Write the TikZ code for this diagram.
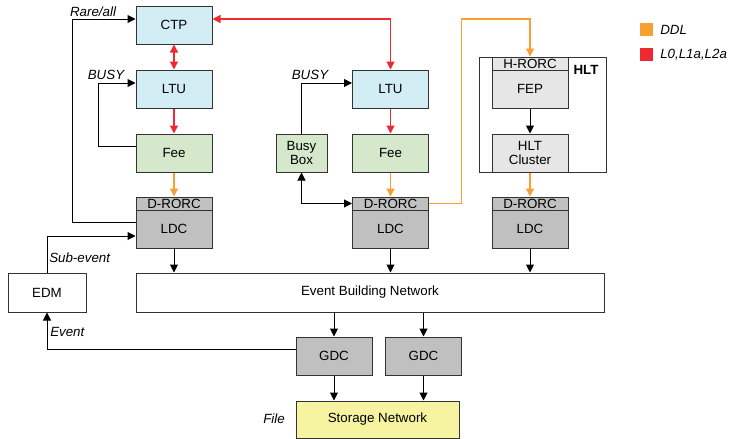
\documentclass[tikz,border=0pt]{standalone}
\usepackage{fontspec}
\setmainfont{Liberation Sans}
\usetikzlibrary{arrows.meta}
\definecolor{trgBlue}{HTML}{D2EDF3}
\definecolor{feeGreen}{HTML}{D5E8CC}
\definecolor{ldcGray}{HTML}{C0C0C0}
\definecolor{hltGray}{HTML}{E6E6E6}
\definecolor{storeYellow}{HTML}{F6F4A0}
\definecolor{ddlOrange}{HTML}{F7A030}
\definecolor{trgRed}{HTML}{EE2A30}

\tikzset{
  box/.style={draw=black!80,line width=0.75pt,minimum width=57pt,minimum height=28.5pt,inner sep=0pt},
  hdr/.style={box,minimum height=9.75pt},
  lbl/.style={font=\itshape,inner sep=0pt},
  ctl/.style={line width=0.75pt,-{Triangle[length=6pt,width=6pt]}},
  both/.style={{Triangle[length=6pt,width=6pt]}-{Triangle[length=6pt,width=6pt]}},
  trg/.style={ctl,trgRed,line width=0.9pt},
  ddl/.style={ctl,ddlOrange,line width=0.9pt}
}

\begin{document}
\begin{tikzpicture}[x=0.75pt,y=-0.75pt]
\useasboundingbox (0,0) rectangle (733,439);
% trigger column
\node[box,fill=trgBlue] (CTP) at (174,25) {CTP};
\node[box,fill=trgBlue] (LTUa) at (174,89) {LTU};
\node[box,fill=feeGreen] (Feea) at (174,153) {Fee};
\node[hdr,fill=ldcGray] (DRORCa) at (174,203.5) {D-RORC};
\node[box,fill=ldcGray] (LDCa) at (174,229) {LDC};
% second detector
\node[box,fill=trgBlue] (LTUb) at (390.5,89) {LTU};
\node[box,fill=feeGreen] (Feeb) at (390.5,153) {Fee};
\node[hdr,fill=ldcGray] (DRORCb) at (390.5,203.5) {D-RORC};
\node[box,fill=ldcGray] (LDCb) at (390.5,229) {LDC};
\node[box,fill=feeGreen,minimum width=38.25pt,align=center] (Busy) at (301.5,153) {Busy\\[-2pt]Box};
% HLT
\draw[line width=0.75pt,draw=black!80] (479,57) rectangle (606,172);
\node[font=\bfseries,inner sep=0pt] (HLTlbl) at (586,70) {HLT};
\node[hdr,fill=hltGray] (HRORC) at (530,63.5) {H-RORC};
\node[box,fill=hltGray] (FEP) at (530,89) {FEP};
\node[box,fill=hltGray,align=center] (Cluster) at (530,153) {HLT\\[-2pt]Cluster};
\node[hdr,fill=ldcGray] (DRORCc) at (530,203.5) {D-RORC};
\node[box,fill=ldcGray] (LDCc) at (530,229) {LDC};
% event building and storage
\node[box,minimum width=351pt,minimum height=29.25pt] (EBN) at (370,292.5) {Event Building Network};
\node[box,minimum width=58.5pt,minimum height=29.25pt] (EDM) at (47,292.5) {EDM};
\node[box,fill=ldcGray] (GDCa) at (334,356) {GDC};
\node[box,fill=ldcGray] (GDCb) at (423.5,356) {GDC};
\node[box,fill=storeYellow,minimum width=122.25pt,minimum height=27.75pt] (Store) at (377.5,419.5) {Storage Network};
% legend
\fill[ddlOrange] (640,23) rectangle (653,36);
\fill[trgRed] (640,48) rectangle (653,61);
\node[lbl,anchor=west] (legDDL) at (660,30) {DDL};
\node[lbl,anchor=west] (legTrg) at (660,55) {L0,L1a,L2a};

% trigger lines
\draw[trg,both] (CTP) -- (LTUa);
\draw[trg] (LTUa) -- (Feea);
\draw[trg,both] ([yshift=4.5pt]CTP.east) -| (LTUb.north);
\draw[trg] (LTUb) -- (Feeb);
% DDL lines
\coordinate (ddlTurn) at (461.5,19);
\draw[ddl] (Feea) -- (DRORCa);
\draw[ddl] (Feeb) -- (DRORCb);
\draw[ddl] (DRORCb.east) -| (ddlTurn) -| (HRORC.north);
\draw[ddl] (Cluster) -- (DRORCc);
\draw[ctl] (FEP) -- (Cluster);
% busy and control
\coordinate (rareTurn) at (72,19);
\coordinate (busyTurn) at (98,83);
\draw[ctl] ([yshift=5.25pt]LDCa.west) -| (rareTurn) -- ([yshift=4.5pt]CTP.west);
\node[lbl] (rareLbl) at (93,12) {Rare/all};
\draw[ctl] ([yshift=5.25pt]Feea.west) -| (busyTurn) -- ([yshift=4.5pt]LTUa.west);
\node[lbl] (busyLblA) at (106,75) {BUSY};
\draw[ctl] (Busy.north) |- ([yshift=4.5pt]LTUb.west);
\node[lbl] (busyLblB) at (310,75) {BUSY};
\draw[ctl,both] (Busy.south) |- (DRORCb.west);
% data flow
\foreach \ldc in {LDCa,LDCb,LDCc}
  \draw[ctl] (\ldc) -- (\ldc |- EBN.north);
\draw[ctl] (EDM.north) |- ([yshift=-5.25pt]LDCa.west);
\node[lbl,anchor=west] (subLbl) at (49,258) {Sub-event};
\draw[ctl] ([yshift=5.25pt]GDCa.west) -| (EDM.south);
\node[lbl,anchor=west] (evtLbl) at (50,332) {Event};
\foreach \gdc in {GDCa,GDCb} {
  \draw[ctl] (EBN.south -| \gdc) -- (\gdc);
  \draw[ctl] (\gdc) -- (\gdc |- Store.north);
}
\node[lbl] (fileLbl) at (274,419) {File};
\end{tikzpicture}
\end{document}
